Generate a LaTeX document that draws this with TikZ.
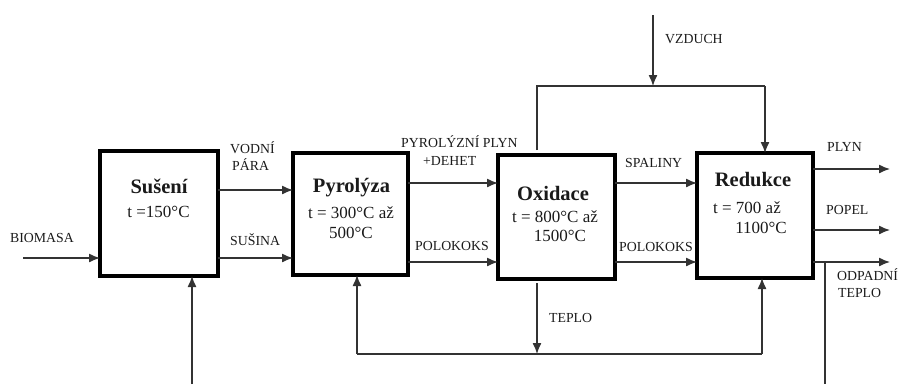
\documentclass[tikz,border=0pt]{standalone}
\usepackage{fontspec}
\setmainfont{Liberation Serif}
\newfontfamily\tnr{Liberation Serif}
\usetikzlibrary{arrows.meta}
\definecolor{ln}{HTML}{333333}
\definecolor{tx}{HTML}{1A1A1A}
\begin{document}
\begin{tikzpicture}[x=1pt,y=-1pt,
  proc/.style={draw=black,line width=4.2pt,inner sep=0pt,outer sep=0pt},
  ttl/.style={font=\tnr\fontsize{20.5}{22}\selectfont\bfseries,text=tx,inner sep=0pt,anchor=base},
  tmp/.style={font=\tnr\fontsize{17}{19}\selectfont,text=tx,inner sep=0pt,anchor=base},
  lab/.style={font=\tnr\fontsize{13.8}{15}\selectfont,text=tx,inner sep=0pt,anchor=base west},
  arr/.style={draw=ln,line width=1.3pt,-{Latex[length=11pt,width=9pt]}},
  ln/.style={draw=ln,line width=1.3pt}]
\useasboundingbox (0,0) rectangle (903,384);

% boxes
\node[proc,minimum width=118pt,minimum height=125pt] (sus) at (159,213.5) {};
\node[proc,minimum width=115pt,minimum height=122pt] (pyr) at (350.5,214) {};
\node[proc,minimum width=117pt,minimum height=124pt] (oxi) at (556.5,217) {};
\node[proc,minimum width=116pt,minimum height=125pt] (red) at (755,215.5) {};

% box texts
\node[ttl] (susT) at (159,193) {Sušení};
\node[tmp] (susA) at (158.5,217) {t =150°C};
\node[ttl] (pyrT) at (351.5,192) {Pyrolýza};
\node[tmp] (pyrA) at (351,218) {t = 300°C až};
\node[tmp] (pyrB) at (351,238) {500°C};
\node[ttl] (oxiT) at (553,200) {Oxidace};
\node[tmp] (oxiA) at (555,222) {t = 800°C až};
\node[tmp] (oxiB) at (560,241) {1500°C};
\node[ttl] (redT) at (753,186) {Redukce};
\node[tmp] (redA) at (747,213) {t = 700 až};
\node[tmp] (redB) at (761,233) {1100°C};

% coordinates
\coordinate (r190) at (0,190);
\coordinate (r258) at (0,258);
\coordinate (r183) at (0,183);
\coordinate (r262) at (0,262);
\coordinate (r169) at (0,169);
\coordinate (r230) at (0,230);
\coordinate (bio) at (23,258);
\coordinate (o1) at (890,169);
\coordinate (o2) at (890,230);
\coordinate (o3) at (890,262);
\coordinate (odj) at (825,262);
\coordinate (odb) at (825,384);
\coordinate (susb) at (192,384);
\coordinate (vzt) at (653,15);
\coordinate (vzj) at (653,86);
\coordinate (vzl) at (537,86);
\coordinate (vzr) at (765,86);
\coordinate (vzle) at (537,150);
\coordinate (tps) at (537,283);
\coordinate (tpj) at (537,354);
\coordinate (tpl) at (357,354);
\coordinate (tpr) at (762,354);

% main flow
\draw[arr] (bio) -- (sus.west |- bio);
\draw[arr] (sus.east |- r190) -- (pyr.west |- r190);
\draw[arr] (sus.east |- r258) -- (pyr.west |- r258);
\draw[arr] (pyr.east |- r183) -- (oxi.west |- r183);
\draw[arr] (pyr.east |- r262) -- (oxi.west |- r262);
\draw[arr] (oxi.east |- r183) -- (red.west |- r183);
\draw[arr] (oxi.east |- r262) -- (red.west |- r262);
\draw[arr] (red.east |- r169) -- (o1);
\draw[arr] (red.east |- r230) -- (o2);
\draw[arr] (red.east |- r262) -- (o3);
\draw[ln] (odj) -- (odb);
\draw[arr] (susb) -- (susb |- sus.south);

% air
\draw[arr] (vzt) -- (vzj);
\draw[ln] (vzle) -- (vzl) -- (vzr);
\draw[arr] (vzr) -- (vzr |- red.north);

% heat
\draw[arr] (tps) -- (tpj);
\draw[ln] (tpl) -- (tpr);
\draw[arr] (tpl) -- (tpl |- pyr.south);
\draw[arr] (tpr) -- (tpr |- red.south);

% labels
\node[lab] (lbio) at (10,242) {BIOMASA};
\node[lab] (lvod) at (230,153) {VODNÍ};
\node[lab] (lpar) at (232,170) {PÁRA};
\node[lab] (lsus) at (230,245) {SUŠINA};
\node[lab] (lpyp) at (401,147) {PYROLÝZNÍ PLYN};
\node[lab] (ldeh) at (423,165) {+DEHET};
\node[lab] (lpk1) at (415,250) {POLOKOKS};
\node[lab] (lspa) at (625,167) {SPALINY};
\node[lab] (lpk2) at (619,251) {POLOKOKS};
\node[lab] (lvzd) at (665,43) {VZDUCH};
\node[lab] (ltep) at (549,322) {TEPLO};
\node[lab] (lply) at (827,151) {PLYN};
\node[lab] (lpop) at (826,214) {POPEL};
\node[lab] (lodp) at (837,280) {ODPADNÍ};
\node[lab] (lodt) at (838,297) {TEPLO};
\end{tikzpicture}
\end{document}
